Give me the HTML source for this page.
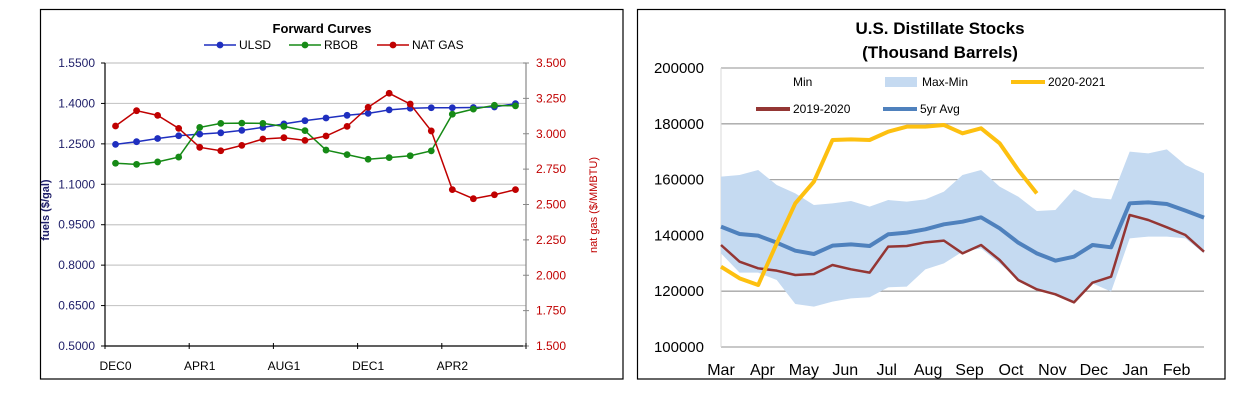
<!DOCTYPE html>
<html><head><meta charset="utf-8"><style>
body{margin:0;background:#fff;width:1246px;height:413px;overflow:hidden;font-family:"Liberation Sans",sans-serif}
svg{position:absolute;left:0;top:0}
</style></head><body>
<svg id="s" width="1246" height="413" xmlns="http://www.w3.org/2000/svg">
<rect x="40.5" y="9.5" width="582.5" height="369.5" fill="#fff" stroke="#000" stroke-width="1.2"/>
<rect x="637.5" y="9.5" width="587.5" height="369.5" fill="#fff" stroke="#000" stroke-width="1.2"/>
<g id="L"></g>
<g id="R"></g>
</svg>
<script>
// ---- Forward curves data ----
const fcCategories = ["DEC0","JAN1","FEB1","MAR1","APR1","MAY1","JUN1","JUL1","AUG1","SEP1","OCT1","NOV1","DEC1","JAN2","FEB2","MAR2","APR2","MAY2","JUN2","JUL2"];
const fcTickLabels = ["DEC0","APR1","AUG1","DEC1","APR2"];
const fcLeftTicks = [0.5,0.65,0.8,0.95,1.1,1.25,1.4,1.55];
const fcRightTicks = [1.5,1.75,2.0,2.25,2.5,2.75,3.0,3.25,3.5];
const ulsd = [1.248,1.258,1.270,1.280,1.286,1.291,1.300,1.311,1.324,1.336,1.346,1.356,1.363,1.376,1.382,1.384,1.384,1.385,1.387,1.399];
const rbob = [1.178,1.174,1.183,1.201,1.311,1.326,1.327,1.326,1.315,1.299,1.227,1.210,1.193,1.199,1.206,1.224,1.360,1.379,1.393,1.391];
const natgas = [3.055,3.163,3.130,3.038,2.904,2.880,2.918,2.963,2.972,2.953,2.984,3.052,3.187,3.286,3.210,3.020,2.605,2.541,2.569,2.605];
// ---- Distillate data (bi-weekly samples, Mar..Feb) ----
const dsMonths = ["Mar","Apr","May","Jun","Jul","Aug","Sep","Oct","Nov","Dec","Jan","Feb"];
const dsYTicks = [100000,120000,140000,160000,180000,200000];
const dsMax = [161050,161650,163440,158070,155080,150900,151500,152330,150300,152690,152090,152930,155680,161650,163440,157470,153880,148750,149110,156510,153530,152930,170010,169420,170850,165230,162250];
const dsMin = [133570,126640,126640,124020,115420,114460,116250,117450,117810,121390,121630,127840,129990,134170,135370,129990,124020,120670,118880,116010,122820,119830,138950,139550,139550,138950,133570];
const ds2021 = [128800,124610,122220,137160,151500,159260,174190,174430,174190,177180,178970,178970,179570,176580,178380,173000,163440,155080];
const ds1920 = [136560,130590,128200,127360,125810,126170,129400,127840,126650,135960,136200,137520,138120,133570,136560,131190,124020,120670,118880,116010,123060,125210,147310,145520,142890,140140,134170];
const ds5yr = [143130,140500,139900,137400,134530,133330,136320,136800,136200,140400,141000,142180,143970,144920,146480,142530,137400,133570,130950,132380,136560,135730,151500,151850,151260,148870,146360];

const NS="http://www.w3.org/2000/svg";
function mk(p,tag,a,txt){const e=document.createElementNS(NS,tag);for(const k in a)e.setAttribute(k,a[k]);if(txt!==undefined)e.textContent=txt;p.appendChild(e);return e;}

// ===== Left chart =====
(function(){
const g=document.getElementById('L');
const x0=105,x1=526,yT=63,yB=346;
const slot=(x1-x0)/fcCategories.length;
const xs=i=>x0+slot*(i+0.5);
const yl=v=>yB-(v-0.5)/(1.55-0.5)*(yB-yT);
const yr=v=>yB-(v-1.5)/(3.5-1.5)*(yB-yT);
fcLeftTicks.forEach(v=>{
 let l=mk(g,'line',{x1:x0,x2:x1,y1:yl(v),y2:yl(v),stroke:v===0.5?'#000':'#c8c8c8','stroke-width':1.2});
 
 
 mk(g,'line',{x1:x0-4,x2:x0,y1:yl(v),y2:yl(v),stroke:'#000'});
 let t=mk(g,'text',{x:95,y:yl(v)+4,'text-anchor':'end','font-size':12,fill:'#20206a'},v.toFixed(4));
 
 
});
fcRightTicks.forEach(v=>{
 mk(g,'line',{x1:x1-3,x2:x1+3,y1:yr(v),y2:yr(v),stroke:'#888'});
 let t=mk(g,'text',{x:536,y:yr(v)+4,'font-size':12,fill:'#c00000'},v.toFixed(3));
 
 
});
mk(g,'line',{x1:x0,x2:x0,y1:yT,y2:yB,stroke:'#000','stroke-width':1.2});
mk(g,'line',{x1:x1,x2:x1,y1:yT,y2:yB,stroke:'#888','stroke-width':1.2});
fcCategories.forEach((c,i)=>{ if(i%4===0){
 const tx=x0+slot*i; mk(g,'line',{x1:tx,x2:tx,y1:yB-3,y2:yB+3,stroke:'#000'});
 let t=mk(g,'text',{x:xs(i),y:370,'text-anchor':'middle','font-size':12,fill:'#000'},fcTickLabels[i/4]);
 
 
}});
mk(g,'line',{x1:x1,x2:x1,y1:yB-3,y2:yB+3,stroke:'#000'});
function series(vals,fy,col,name){
 const pts=vals.map((v,i)=>xs(i)+','+fy(v)).join(' ');
 let p=mk(g,'polyline',{points:pts,fill:'none',stroke:col,'stroke-width':1.5});
 
 
 vals.forEach((v,i)=>{let c=mk(g,'circle',{cx:xs(i),cy:fy(v),r:3.4,fill:col});
 
 });
}
series(ulsd,yl,'#1f2fbf','ulsd');
series(rbob,yl,'#168a16','rbob');
series(natgas,yr,'#c00000','nat-gas');
let t=mk(g,'text',{x:322,y:33,'text-anchor':'middle','font-size':13,'font-weight':'bold'},'Forward Curves');

[['ULSD','#1f2fbf',204],['RBOB','#168a16',289],['NAT GAS','#c00000',377]].forEach(([n,c,x])=>{
 const lg=mk(g,'g',{});
 
 
 mk(lg,'line',{x1:x,x2:x+32,y1:45,y2:45,stroke:c,'stroke-width':1.5});
 mk(lg,'circle',{cx:x+16,cy:45,r:3.4,fill:c});
 mk(lg,'text',{x:x+35,y:49,'font-size':12},n);
});
t=mk(g,'text',{transform:'translate(49,210) rotate(-90)','text-anchor':'middle','font-size':11,'font-weight':'bold',fill:'#20206a'},'fuels ($/gal)');

t=mk(g,'text',{transform:'translate(597,205) rotate(-90)','text-anchor':'middle','font-size':11,fill:'#c00000'},'nat gas ($/MMBTU)');

})();

// ===== Right chart =====
(function(){
const g=document.getElementById('R');
const x0=721,x1=1204,yT=68,yB=347;
const n=dsMax.length-1;
const xs=i=>x0+(x1-x0)*i/n;
const ys=v=>yB-(v-100000)/100000*(yB-yT);
dsYTicks.forEach(v=>{
 let l=mk(g,'line',{x1:x0,x2:x1,y1:ys(v),y2:ys(v),stroke:'#a6a6a6','stroke-width':1.3});
 
 let t=mk(g,'text',{x:704,y:ys(v)+5,'text-anchor':'end','font-size':15,fill:'#000'},String(v));
 
});
mk(g,'line',{x1:x0,x2:x0,y1:yT,y2:yB,stroke:'#d9d9d9'});
let band='M'+dsMax.map((v,i)=>xs(i)+','+ys(v)).join(' L')+' L'+dsMin.map((v,i)=>xs(i)+','+ys(v)).reverse().join(' L')+'Z';
let b=mk(g,'path',{d:band,fill:'#c5daf1'});

function line(vals,col,name,w){
 let p=mk(g,'polyline',{points:vals.map((v,i)=>xs(i)+','+ys(v)).join(' '),fill:'none',stroke:col,'stroke-width':w,'stroke-linejoin':'round'});
 
}
line(ds1920,'#943634','series-2019-2020',2.5);
line(ds5yr,'#4f81bd','series-5yr-avg',4);
line(ds2021,'#fdc010','series-2020-2021',4);
const mw=(x1-x0)/11.66;
dsMonths.forEach((m,i)=>{
 let t=mk(g,'text',{x:x0+mw*i,y:375,'text-anchor':'middle','font-size':16},m);
 
});
let t=mk(g,'text',{x:940,y:34,'text-anchor':'middle','font-size':17,'font-weight':'bold'},'U.S. Distillate Stocks');

t=mk(g,'text',{x:940,y:58,'text-anchor':'middle','font-size':17,'font-weight':'bold'},'(Thousand Barrels)');

function leg(x,y,kind,col,label){
 const lg=mk(g,'g',{});
 
 
 if(kind==='rect')mk(lg,'rect',{x:x,y:y-5,width:32,height:10,fill:col});
 if(kind==='line')mk(lg,'line',{x1:x,x2:x+34,y1:y,y2:y,stroke:col,'stroke-width':4});
 mk(lg,'text',{x:kind?x+37:x,y:y+4,'font-size':12},label);
}
leg(793,82,null,null,'Min');
leg(885,82,'rect','#c5daf1','Max-Min');
leg(1011,82,'line','#fdc010','2020-2021');
leg(756,109,'line','#943634','2019-2020');
leg(883,109,'line','#4f81bd','5yr Avg');
})();
</script>
</body></html>
